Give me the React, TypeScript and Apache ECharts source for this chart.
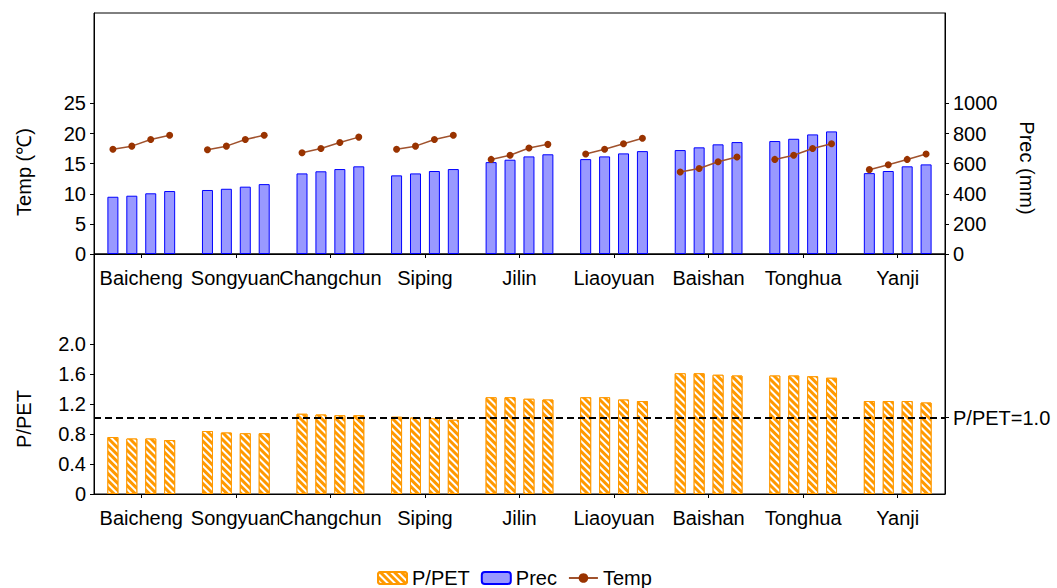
import React, { useEffect, useRef } from "react";
import * as echarts from "echarts";

const stations = ["Baicheng", "Songyuan", "Changchun", "Siping", "Jilin", "Liaoyuan", "Baishan", "Tonghua", "Yanji"];

// Annual precipitation (mm), 4 periods per station
const precValues = [
  [380, 387, 403, 418],
  [425, 433, 447, 464],
  [535, 549, 564, 582],
  [522, 535, 551, 564],
  [610, 626, 648, 662],
  [630, 648, 668, 683],
  [690, 708, 728, 743],
  [750, 765, 794, 814],
  [537, 551, 582, 595],
];

// Temperature (℃), 4 periods per station
const tempValues = [
  [17.4, 17.9, 19.0, 19.7],
  [17.3, 17.9, 19.0, 19.7],
  [16.8, 17.5, 18.5, 19.4],
  [17.4, 17.9, 19.0, 19.7],
  [15.7, 16.4, 17.6, 18.2],
  [16.6, 17.4, 18.3, 19.2],
  [13.6, 14.2, 15.3, 16.1],
  [15.7, 16.4, 17.5, 18.3],
  [14.0, 14.8, 15.7, 16.6],
];

// P/PET ratio, 4 periods per station
const ppetValues = [
  [0.76, 0.74, 0.74, 0.72],
  [0.84, 0.82, 0.81, 0.81],
  [1.07, 1.06, 1.05, 1.05],
  [1.03, 1.02, 1.01, 0.99],
  [1.29, 1.29, 1.27, 1.26],
  [1.29, 1.29, 1.26, 1.24],
  [1.61, 1.61, 1.59, 1.58],
  [1.58, 1.58, 1.57, 1.55],
  [1.24, 1.24, 1.24, 1.22],
];

const tempTicks = [0, 5, 10, 15, 20, 25];
const precTicks = [0, 200, 400, 600, 800, 1000];
const ppetTicks = [0, 0.4, 0.8, 1.2, 1.6, 2.0];
const thresholdValue = 1.02;
const thresholdLabel = "P/PET=1.0";

const FONT = "'Liberation Sans', Arial, sans-serif";

export default function App() {
  const ref = useRef<HTMLDivElement>(null);
  useEffect(() => {
    if (!ref.current) return;
    const chart = echarts.init(ref.current, null, { renderer: "svg" });

    const periods = [0, 1, 2, 3];
    const slotsPerCat = 5;
    const tempSlots: (number | null)[] = new Array(stations.length * slotsPerCat + 1).fill(null);
    tempValues.forEach((row, j) => row.forEach((v, m) => { tempSlots[j * slotsPerCat + m + 1] = v; }));
    const slotCats = tempSlots.map((_, i) => String(i));

    const axisLineStyle = { lineStyle: { color: "#000", width: 1 } };
    const labelStyle = { color: "#000", fontSize: 20, fontFamily: FONT };

    const catAxis = (gridIndex: number) => ({
      type: "category",
      gridIndex,
      data: stations,
      position: "bottom",
      axisLine: axisLineStyle,
      axisTick: { show: true, alignWithLabel: true, length: 4, lineStyle: { color: "#000" } },
      axisLabel: { ...labelStyle, interval: 0, margin: 14, backgroundColor: "#fff" },
      splitLine: { show: false },
    });

    const decal = {
      symbol: "rect",
      symbolSize: 1,
      color: "#ffffff",
      dashArrayX: [1, 0],
      dashArrayY: [2, 3],
      rotation: Math.PI / 4,
    };

    const precSeries = periods.map((m) => ({
      name: "Prec",
      type: "bar",
      xAxisIndex: 0,
      yAxisIndex: 1,
      barWidth: 11,
      barGap: "72%",
      data: precValues.map((r) => r[m]),
      itemStyle: { color: "#9999FF", borderColor: "#0000FF", borderWidth: 1 },
    }));

    const ppetSeries = periods.map((m) => ({
      name: "P/PET",
      type: "bar",
      xAxisIndex: 1,
      yAxisIndex: 2,
      barWidth: 11,
      barGap: "72%",
      data: ppetValues.map((r) => r[m]),
      itemStyle: { color: "#FF9900", borderColor: "#FF9900", borderWidth: 1, decal },
      ...(m === 0
        ? {
            markLine: {
              silent: true,
              symbol: "none",
              label: { show: false },
              lineStyle: { color: "#000", type: [7, 4], width: 2 },
              data: [{ yAxis: thresholdValue }],
            },
          }
        : {}),
    }));

    const option: any = {
      animation: false,
      backgroundColor: "#fff",
      textStyle: { fontFamily: FONT },
      grid: [
        { left: 94, right: 112, top: 13, height: 241, show: true, borderColor: "#000", borderWidth: 1, backgroundColor: "transparent" },
        { left: 94, right: 112, top: 254, height: 240, show: true, borderColor: "#000", borderWidth: 1, backgroundColor: "transparent" },
      ],
      legend: {
        left: 372,
        top: 563,
        itemWidth: 29,
        itemHeight: 12,
        itemGap: 11,
        textStyle: { ...labelStyle },
        data: ["P/PET", "Prec", "Temp"],
      },
      xAxis: [
        catAxis(0),
        catAxis(1),
        { type: "category", gridIndex: 0, data: slotCats, boundaryGap: false, show: false },
      ],
      yAxis: [
        {
          type: "value", gridIndex: 0, position: "left", min: 0, max: 40, interval: 5,
          axisLine: { show: true, ...axisLineStyle },
          axisTick: { show: true, length: 4, customValues: tempTicks, lineStyle: { color: "#000" } },
          axisLabel: { ...labelStyle, margin: 8, customValues: tempTicks, formatter: (v: number) => String(v) },
          splitLine: { show: false },
        },
        {
          type: "value", gridIndex: 0, position: "right", min: 0, max: 1600, interval: 200,
          axisLine: { show: true, ...axisLineStyle },
          axisTick: { show: true, length: 4, customValues: precTicks, lineStyle: { color: "#000" } },
          axisLabel: { ...labelStyle, margin: 8, customValues: precTicks, formatter: (v: number) => String(v) },
          splitLine: { show: false },
        },
        {
          type: "value", gridIndex: 1, position: "left", min: 0, max: 3.2, interval: 0.4,
          axisLine: { show: true, ...axisLineStyle },
          axisTick: { show: true, length: 4, customValues: ppetTicks, lineStyle: { color: "#000" } },
          axisLabel: {
            ...labelStyle, margin: 8, customValues: ppetTicks,
            formatter: (v: number) => (v === 0 ? "0" : v.toFixed(1)),
          },
          splitLine: { show: false },
        },
        {
          type: "value", gridIndex: 1, position: "right", min: 0, max: 3.2, interval: 0.4,
          axisLine: { show: true, ...axisLineStyle },
          axisTick: { show: true, length: 4, customValues: [thresholdValue], lineStyle: { color: "#000" } },
          axisLabel: { ...labelStyle, margin: 8, customValues: [thresholdValue], formatter: () => thresholdLabel },
          splitLine: { show: false },
        },
      ],
      graphic: [
        { type: "text", x: 24, y: 172, rotation: Math.PI / 2, style: { text: "Temp (℃)", font: `20px ${FONT}`, fill: "#000", textAlign: "center", textVerticalAlign: "middle" } },
        { type: "text", x: 1027, y: 168, rotation: -Math.PI / 2, style: { text: "Prec (mm)", font: `20px ${FONT}`, fill: "#000", textAlign: "center", textVerticalAlign: "middle" } },
        { type: "text", x: 24, y: 419, rotation: Math.PI / 2, style: { text: "P/PET", font: `20px ${FONT}`, fill: "#000", textAlign: "center", textVerticalAlign: "middle" } },
      ],
      series: [
        ...ppetSeries,
        ...precSeries,
        {
          name: "Temp",
          type: "line",
          xAxisIndex: 2,
          yAxisIndex: 0,
          data: tempSlots,
          connectNulls: false,
          symbol: "circle",
          symbolSize: 7,
          itemStyle: { color: "#993300" },
          lineStyle: { color: "#A0522D", width: 1.5 },
          z: 5,
        },
      ],
    };

    chart.setOption(option);
    return () => chart.dispose();
  }, []);

  return (
    <div
      ref={ref}
      style={{ position: "fixed", left: 0, top: 0, width: 1057, height: 588, background: "#fff" }}
    />
  );
}
